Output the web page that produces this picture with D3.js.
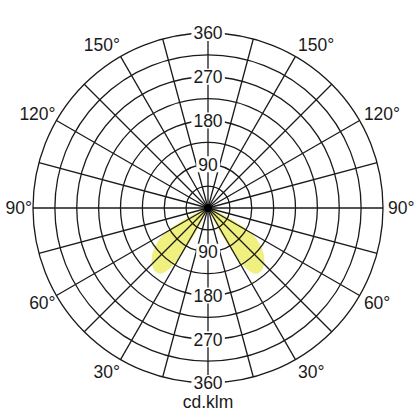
<!DOCTYPE html>
<html>
<head>
<meta charset="utf-8">
<script src="https://cdn.jsdelivr.net/npm/d3@7.9.0/dist/d3.min.js"></script>
<style>
  html, body { margin: 0; padding: 0; background: #fff; }
  svg { display: block; }
  text { font-family: "Liberation Sans", Arial, sans-serif; font-size: 17.5px; fill: #1a1a1a; }
</style>
</head>
<body>
<svg id="chart" width="416" height="416"></svg>
<script>
// ================================
// Data
// ================================
// gamma angle from nadir (deg) and intensity (cd/klm), same on both sides
const gammaDeg = [0, 10, 20, 24, 27, 30, 33, 36, 40, 45, 50, 55, 60, 63, 66, 70, 80, 90];
const intensity = [4, 4, 6, 15, 62, 118, 152, 167, 170, 163, 150, 130, 102, 68, 32, 8, 2, 0];

const ringValues = [45, 90, 135, 180, 225, 270, 315, 360];
const ringLabels = [90, 180, 270, 360];
const spokeAngles = d3.range(0, 360, 15);
const angleLabels = [30, 60, 90, 120, 150];
const unitLabel = "cd.klm";

// ================================
// Setup
// ================================
const cx = 208, cy = 208;
const R = 175;

const svg = d3.select("#chart");
const g = svg.append("g").attr("transform", `translate(${cx},${cy})`);
const r = d3.scaleLinear().domain([0, 360]).range([0, R]);

// full curve: left side (mirrored) then right side
const pts = [];
for (let i = gammaDeg.length - 1; i >= 0; i--) pts.push([-gammaDeg[i], intensity[i]]);
for (let i = 1; i < gammaDeg.length; i++) pts.push([gammaDeg[i], intensity[i]]);

// lineRadial: 0 = up, clockwise; nadir = PI
const curve = d3.lineRadial()
  .angle(d => Math.PI - d[0] * Math.PI / 180)
  .radius(d => r(d[1]))
  .curve(d3.curveCatmullRom.alpha(0.5));

g.append("path")
  .attr("d", curve(pts) + "Z")
  .attr("fill", "#eff07f")
  .attr("stroke", "none");

// ================================
// Grid
// ================================
g.selectAll("circle.ring")
  .data(ringValues)
  .join("circle")
  .attr("class", "ring")
  .attr("r", d => r(d))
  .attr("fill", "none")
  .attr("stroke", "#1a1a1a")
  .attr("stroke-width", 1.3);

g.selectAll("line.spoke")
  .data(spokeAngles)
  .join("line")
  .attr("class", "spoke")
  .attr("x1", 0).attr("y1", 0)
  .attr("x2", d => R * Math.sin(d * Math.PI / 180))
  .attr("y2", d => -R * Math.cos(d * Math.PI / 180))
  .attr("stroke", "#1a1a1a")
  .attr("stroke-width", 1.3);

g.append("circle").attr("r", 4).attr("fill", "#000");

// ================================
// Value labels on the vertical axis (top and bottom)
// ================================
const valData = [];
ringLabels.forEach(v => { valData.push({ v, s: -1 }); valData.push({ v, s: 1 }); });

const valG = g.selectAll("g.val")
  .data(valData)
  .join("g")
  .attr("class", "val")
  .attr("transform", d => `translate(0,${d.s * r(d.v)})`);

valG.append("text")
  .attr("text-anchor", "middle")
  .attr("dy", "0.36em")
  .text(d => d.v);

valG.each(function () {
  const t = d3.select(this).select("text");
  const bb = t.node().getBBox();
  d3.select(this).insert("rect", "text")
    .attr("x", bb.x - 2)
    .attr("y", -8)
    .attr("width", bb.width + 4)
    .attr("height", 16)
    .attr("fill", "#fff");
});

// ================================
// Angle labels
// ================================
const angData = [];
angleLabels.forEach(a => { angData.push({ a, side: -1 }); angData.push({ a, side: 1 }); });

g.selectAll("text.ang")
  .data(angData)
  .join("text")
  .attr("class", "ang")
  .attr("text-anchor", d => d.side < 0 ? "end" : "start")
  .attr("dy", "0.36em")
  .attr("x", d => d.side * (d.side < 0 ? R + 1 : R + 5) * Math.sin(d.a * Math.PI / 180))
  .attr("y", d => (R + 14) * Math.cos(d.a * Math.PI / 180))
  .text(d => d.a + "°");

// unit label
svg.append("text")
  .attr("x", cx)
  .attr("y", 402)
  .attr("dy", "0.36em")
  .attr("text-anchor", "middle")
  .text(unitLabel);
</script>
</body>
</html>
